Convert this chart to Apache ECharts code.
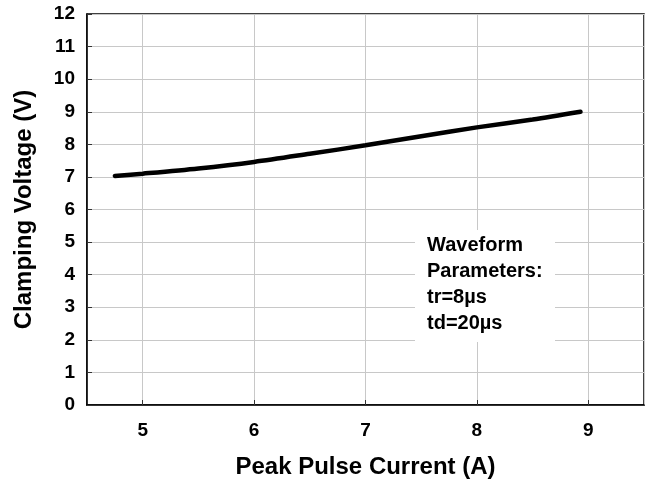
<!DOCTYPE html>
<html>
<head>
<meta charset="utf-8">
<script src="https://cdn.jsdelivr.net/npm/echarts@6/dist/echarts.min.js"></script>
<style>
  html, body { margin: 0; padding: 0; background: #fff; }
  #chart { width: 648px; height: 486px; }
</style>
</head>
<body>
<div id="chart"></div>
<script>
// peak pulse current (A) vs clamping voltage (V)
const currentA = [4.75, 5, 5.5, 6, 6.5, 7, 7.5, 8, 8.5, 8.93]
const voltageV = [7.03, 7.1, 7.26, 7.46, 7.71, 7.97, 8.25, 8.52, 8.76, 9.0]
const noteLines = ['Waveform', 'Parameters:', 'tr=8\u00b5s', 'td=20\u00b5s']

const font = '"Liberation Sans", Arial, Helvetica, sans-serif'
const chart = echarts.init(document.getElementById('chart'))

chart.setOption({
  animation: false,
  grid: {
    left: 87, right: 4, top: 14, bottom: 81,
    show: true, borderColor: '#000', borderWidth: 1.5
  },
  xAxis: {
    type: 'value',
    min: 4.5, max: 9.5, splitNumber: 5,
    name: 'Peak Pulse Current (A)',
    nameLocation: 'middle',
    nameGap: 50,
    nameTextStyle: { fontFamily: font, fontWeight: 'bold', fontSize: 24, color: '#000' },
    axisLine: { lineStyle: { color: '#000', width: 1.5 } },
    axisTick: { inside: true, length: 5, lineStyle: { color: '#333' } },
    axisLabel: {
      margin: 16, fontFamily: font, fontWeight: 'bold', fontSize: 19, color: '#000',
      showMinLabel: false, showMaxLabel: false,
      formatter: v => Number.isInteger(v) ? String(v) : ''
    },
    splitLine: { show: true, lineStyle: { color: '#c8c8c8', width: 1 } }
  },
  yAxis: {
    type: 'value',
    min: 0, max: 12, interval: 1,
    name: 'Clamping Voltage (V)',
    nameLocation: 'middle',
    nameGap: 51,
    nameTextStyle: { fontFamily: font, fontWeight: 'bold', fontSize: 24, color: '#000' },
    axisLine: { show: true, lineStyle: { color: '#000', width: 1.5 } },
    axisTick: { show: true, inside: true, length: 5, lineStyle: { color: '#333' } },
    axisLabel: { margin: 12, fontFamily: font, fontWeight: 'bold', fontSize: 19, color: '#000' },
    splitLine: { show: true, lineStyle: { color: '#c8c8c8', width: 1 } }
  },
  graphic: [
    {
      type: 'rect', z: 10,
      shape: { x: 415, y: 230, width: 140, height: 112 },
      style: { fill: '#fff' }
    },
    {
      type: 'text', z: 11, left: 427, top: 232,
      style: {
        text: noteLines.join('\n'),
        font: 'bold 20px ' + font,
        lineHeight: 26,
        fill: '#000'
      }
    }
  ],
  series: [
    {
      type: 'line',
      data: currentA.map((x, i) => [x, voltageV[i]]),
      smooth: 0.3,
      showSymbol: false,
      lineStyle: { color: '#000', width: 4.5, cap: 'round' },
      z: 12
    }
  ]
})
</script>
</body>
</html>
